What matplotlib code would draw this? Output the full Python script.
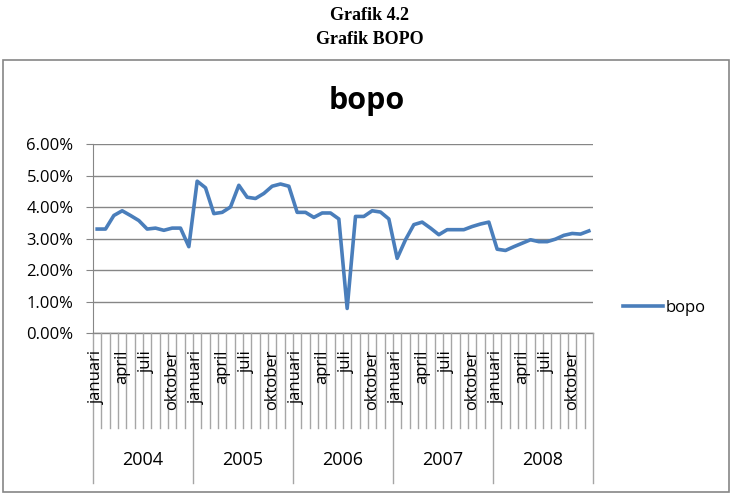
import matplotlib.pyplot as plt
from matplotlib.patches import Rectangle
from matplotlib.ticker import PercentFormatter
import numpy as np

years = ['2004', '2005', '2006', '2007', '2008']
months = ['januari', 'februari', 'maret', 'april', 'mei', 'juni', 'juli',
          'agustus', 'september', 'oktober', 'november', 'desember']
shown_months = ['januari', 'april', 'juli', 'oktober']

# bopo ratio per month, 2004-2008 (fraction)
bopo_2004 = [0.0330, 0.0330, 0.0373, 0.0388, 0.0373, 0.0357, 0.0330, 0.0333, 0.0326, 0.0333, 0.0333, 0.0274]
bopo_2005 = [0.0482, 0.0461, 0.0379, 0.0383, 0.0400, 0.0469, 0.0431, 0.0427, 0.0443, 0.0466, 0.0473, 0.0466]
bopo_2006 = [0.0383, 0.0383, 0.0367, 0.0381, 0.0381, 0.0362, 0.0078, 0.0370, 0.0370, 0.0388, 0.0384, 0.0362]
bopo_2007 = [0.0237, 0.0296, 0.0344, 0.0352, 0.0333, 0.0312, 0.0328, 0.0328, 0.0328, 0.0338, 0.0346, 0.0352]
bopo_2008 = [0.0266, 0.0262, 0.0274, 0.0285, 0.0296, 0.0290, 0.0290, 0.0298, 0.0310, 0.0316, 0.0314, 0.0324]

bopo = bopo_2004 + bopo_2005 + bopo_2006 + bopo_2007 + bopo_2008
n = len(bopo)

W, H = 732, 498
fig = plt.figure(figsize=(W / 100, H / 100), dpi=100)
plt.rcParams['font.family'] = ['Open Sans', 'DejaVu Sans']
fs = 12

# page heading above the chart
fig.text(370 / W, 1 - 16 / H, 'Grafik 4.2', ha='center', va='center',
         family='Liberation Serif', fontweight='bold', fontsize=13)
fig.text(370 / W, 1 - 40 / H, 'Grafik BOPO', ha='center', va='center',
         family='Liberation Serif', fontweight='bold', fontsize=13)

# chart frame
fig.add_artist(Rectangle((3 / W, 1 - 492 / H), 726 / W, 432 / H, transform=fig.transFigure,
                         fill=False, edgecolor='#868686', linewidth=1.2))
fig.text(367 / W, 1 - 101 / H, 'bopo', ha='center', va='center',
         fontweight='bold', fontsize=22, color='black')

ax = fig.add_axes([93 / W, 1 - 333 / H, 500 / W, 189 / H])
x = np.arange(n) + 0.5
ax.plot(x, bopo, color='#4A7EBB', linewidth=2.6, label='bopo', solid_joinstyle='round')

ax.set_xlim(0, n)
ax.set_ylim(0, 0.06)
ax.set_yticks(np.arange(0, 0.061, 0.01))
ax.yaxis.set_major_formatter(PercentFormatter(1.0, decimals=2))
ax.tick_params(axis='y', length=5, color='#868686', labelsize=fs, pad=9)
ax.grid(axis='y', color='#868686', linewidth=1)
for s in ['top', 'right', 'bottom']:
    ax.spines[s].set_visible(False)
ax.spines['left'].set_color('#868686')
ax.set_xticks([])

# multi-level category axis
tr = ax.get_xaxis_transform()
ax.plot([0, n], [0, 0], color='#868686', linewidth=1, transform=tr, clip_on=False)
for k in range(n + 1):
    if k % 12 == 0:
        ax.plot([k, k], [0, -150 / 189], color='#A6A6A6', linewidth=1, transform=tr, clip_on=False)
    else:
        ax.plot([k, k], [0, -95 / 189], color='#A6A6A6', linewidth=1, transform=tr, clip_on=False)
for k in range(n):
    m = months[k % 12]
    if m in shown_months:
        ax.text(k + 0.5, -17 / 189, m, rotation=90, ha='center', va='top',
                fontsize=fs, transform=tr)
for j, yr in enumerate(years):
    ax.text(j * 12 + 6, -127 / 189, yr, ha='center', va='center', fontsize=13, transform=tr)

ax.legend(loc='center left', bbox_to_anchor=(616 / W, 1 - 308 / H), bbox_transform=fig.transFigure,
          frameon=False, fontsize=fs, handlelength=2.4, handletextpad=0.15, borderaxespad=0)

fig.savefig('out.png', dpi=100)
